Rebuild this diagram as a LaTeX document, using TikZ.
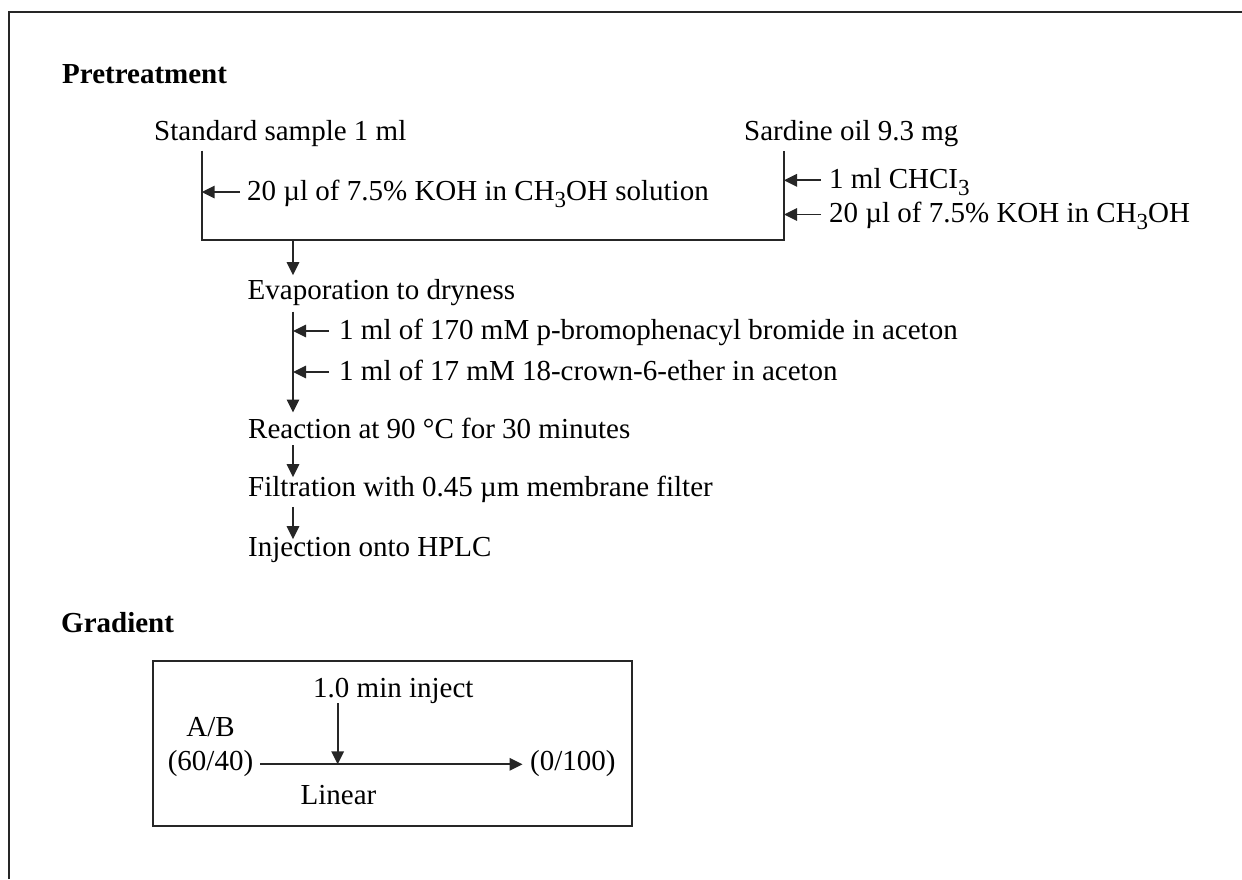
\documentclass[tikz,border=0pt]{standalone}
\usepackage{fontspec}
\setmainfont{Liberation Serif}
\usetikzlibrary{arrows.meta,calc}
\newcommand{\sbs}[1]{\raisebox{-0.25em}{\fontsize{23}{23}\selectfont #1}}
\begin{document}
\begin{tikzpicture}[x=1pt,y=-1pt,
 txt/.style={inner sep=0pt, anchor=base west, text height=21pt, text depth=5pt, font=\fontsize{29}{34}\selectfont},
 ctxt/.style={txt, anchor=base},
 head/.style={txt, font=\fontsize{29}{34}\selectfont\bfseries},
 ln/.style={line width=1.7pt, color=black!85},
 arr/.style={ln, -{Triangle[length=13pt,width=12.5pt]}}]
\useasboundingbox (0,0) rectangle (1242,879);
% outer frame
\draw[ln] (9,879) -- (9,12.3) -- (1242,12.3);

% Pretreatment
\node[head] (pre) at (62,83) {Pretreatment};
\node[txt] (std) at (154,140) {Standard sample 1 ml};
\node[txt] (sar) at (744,140) {Sardine oil 9.3 mg};
\coordinate (ltop) at (201.7,150.7);
\coordinate (lbot) at (201.7,240);
\coordinate (rtop) at (784,151);
\coordinate (rbot) at (784,240);
\draw[ln] (ltop) -- (lbot) -- (rbot) -- (rtop);

\node[txt] (k1) at (247,200) {20 µl of 7.5\% KOH in CH\sbs{3}OH solution};
\draw[arr] ($(k1.west)+(-7,0)$) -- (k1.west -| ltop);
\node[txt] (c1) at (829,188.3) {1 ml CHCI\sbs{3}};
\node[txt] (c2) at (829,222.5) {20 µl of 7.5\% KOH in CH\sbs{3}OH};
\draw[arr] ($(c1.west)+(-8,0)$) -- (c1.west -| rtop);
\draw[arr] ($(c2.west)+(-8,0)$) -- (c2.west -| rtop);

\coordinate (mx) at (293,240);
\node[txt] (evap) at (247.5,299.3) {Evaporation to dryness};
\draw[arr] (mx) -- ($(mx |- evap.north)+(0,-3)$);
\node[txt] (b1) at (339,339) {1 ml of 170 mM p-bromophenacyl bromide in aceton};
\node[txt] (b2) at (339,380) {1 ml of 17 mM 18-crown-6-ether in aceton};
\node[txt] (react) at (248,438.3) {Reaction at 90 °C for 30 minutes};
\draw[arr] ($(mx |- evap.south)+(0,7)$) -- ($(mx |- react.north)+(0,-4.6)$);
\draw[arr] ($(b1.west)+(-10,0)$) -- (b1.west -| mx);
\draw[arr] ($(b2.west)+(-10,0)$) -- (b2.west -| mx);
\node[txt] (filt) at (248,496) {Filtration with 0.45 µm membrane filter};
\draw[arr] ($(mx |- react.south)+(0,1.7)$) -- ($(mx |- filt.north)+(0,2.3)$);
\node[txt] (inj) at (248,556) {Injection onto HPLC};
\draw[arr] ($(mx |- filt.south)+(0,5.7)$) -- ($(mx |- inj.north)+(0,4.3)$);

% Gradient
\node[head] (grad) at (61,632) {Gradient};
\node[draw, ln, inner sep=0pt, minimum width=479.3pt, minimum height=165.3pt] (gbox) at (392.35,743.35) {};
\node[txt] (inject) at (313,697) {1.0 min inject};
\node[ctxt] (ab) at (210.5,736.7) {A/B};
\node[ctxt] (r6040) at (210.5,770) {(60/40)};
\node[txt] (r0100) at (530,770) {(0/100)};
\node[txt] (lin) at (300.5,804) {Linear};
\coordinate (hl) at (0,764.3);
\coordinate (vx) at (337.7,0);
\draw[arr] ($(r6040.east |- hl)+(7,0)$) -- ($(r0100.west |- hl)+(-7.5,0)$);
\draw[arr] ($(vx |- inject.south)+(0,1)$) -- (vx |- hl);
\end{tikzpicture}
\end{document}
